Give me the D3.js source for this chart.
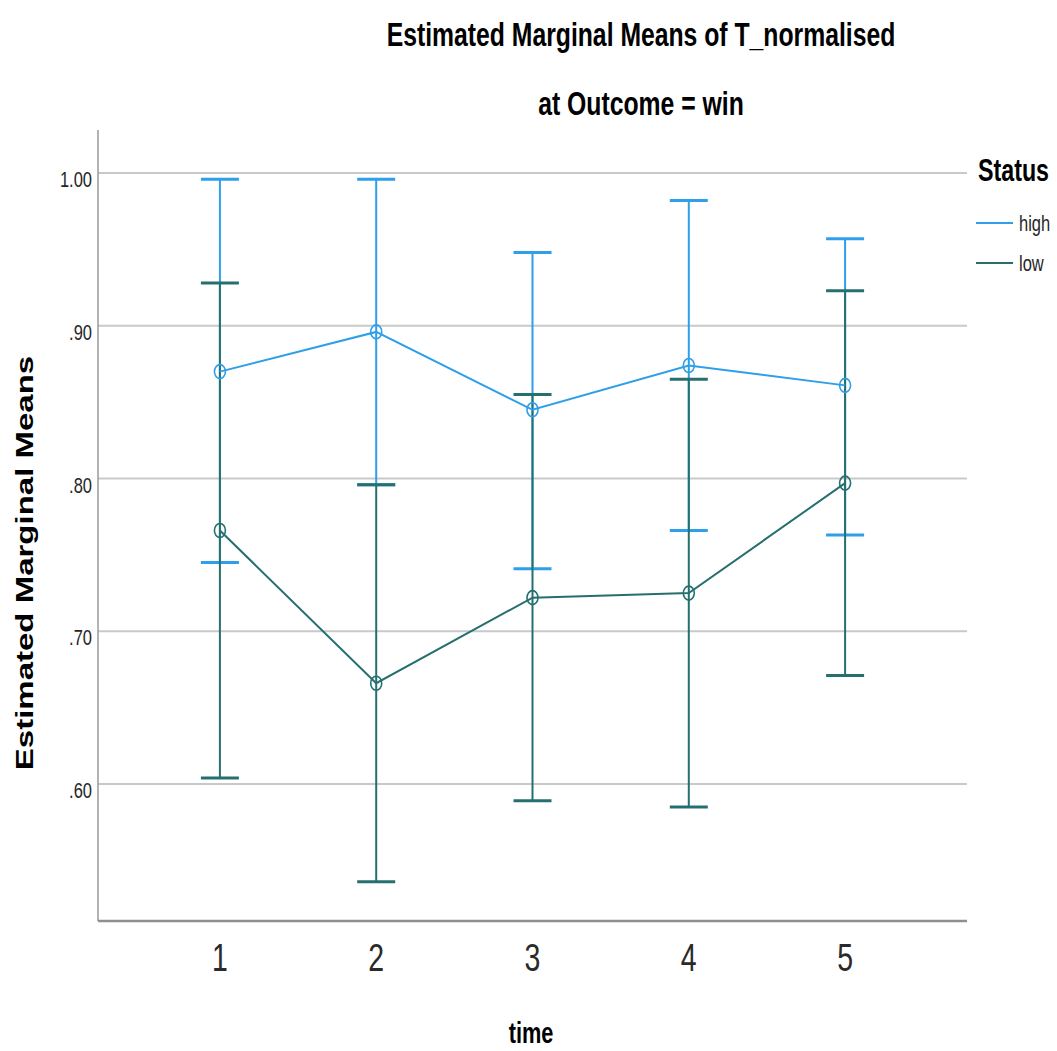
<!DOCTYPE html>
<html>
<head>
<meta charset="utf-8">
<script src="https://cdn.jsdelivr.net/npm/d3@7"></script>
<style>
  html, body { margin: 0; padding: 0; background: #ffffff; }
  svg { display: block; font-family: "Liberation Sans", Arial, sans-serif; }
</style>
</head>
<body>
<svg id="chart" width="1057" height="1051"></svg>
<script>
// Estimated marginal means of T_normalised by time, split by Status (Outcome = win)
const categories = [1, 2, 3, 4, 5];
const statusLevels = ["high", "low"];

const highMean  = [0.870, 0.896, 0.845, 0.874, 0.861];
const highLower = [0.745, 0.796, 0.741, 0.766, 0.763];
const highUpper = [0.996, 0.996, 0.948, 0.982, 0.957];

const lowMean  = [0.766, 0.666, 0.722, 0.725, 0.797];
const lowLower = [0.604, 0.536, 0.589, 0.585, 0.671];
const lowUpper = [0.928, 0.796, 0.855, 0.865, 0.923];

const yTicks = [0.6, 0.7, 0.8, 0.9, 1.0];
const yTickLabels = [".60", ".70", ".80", ".90", "1.00"];

const series = [
  { name: "high", mean: highMean, lower: highLower, upper: highUpper, color: "#2e9fe8" },
  { name: "low",  mean: lowMean,  lower: lowLower,  upper: lowUpper,  color: "#25706f" }
];

// Plot frame
const plotLeft = 98, plotRight = 967, plotTop = 130, plotBottom = 921;
const squeeze = 0.75; // horizontal squeeze applied to text glyphs

const svg = d3.select("#chart");

const x = d3.scalePoint().domain(categories).range([plotLeft, plotRight]).padding(0.78);
const y = d3.scaleLinear().domain([0.5103, 1.0282]).range([plotBottom, plotTop]);

// helper: text with horizontally condensed glyphs
function label(g, px, py, txt, opts) {
  return g.append("g")
    .attr("transform", `translate(${px},${py}) scale(${squeeze},1)` + (opts.rotate ? ` rotate(${opts.rotate})` : ""))
    .append("text")
    .attr("x", 0).attr("y", 0)
    .attr("font-size", opts.size)
    .attr("font-weight", opts.bold ? "bold" : "normal")
    .attr("text-anchor", opts.anchor || "start")
    .attr("fill", opts.fill || "#000")
    .text(txt);
}

// Gridlines
svg.append("g")
  .selectAll("line")
  .data(yTicks)
  .join("line")
  .attr("x1", plotLeft).attr("x2", plotRight)
  .attr("y1", d => y(d)).attr("y2", d => y(d))
  .attr("stroke", "#c9c9c9")
  .attr("stroke-width", 2);

// Y axis (line + labels)
const yAxis = d3.axisLeft(y).tickValues(yTicks).tickSize(0).tickFormat("");
const yAxisG = svg.append("g").attr("transform", `translate(${plotLeft},0)`).call(yAxis);
yAxisG.select(".domain").attr("stroke", "#9a9a9a").attr("stroke-width", 1.5)
  .attr("d", `M0,${plotTop}V${plotBottom}`);

const yLab = svg.append("g");
yTicks.forEach((v, i) => {
  label(yLab, 92, y(v) + 14, yTickLabels[i], { size: 22, anchor: "end", fill: "#262626" });
});

// X axis
const xAxis = d3.axisBottom(x).tickSize(0).tickFormat("");
const xAxisG = svg.append("g").attr("transform", `translate(0,${plotBottom})`).call(xAxis);
xAxisG.select(".domain").attr("stroke", "#8f8f8f").attr("stroke-width", 2.5)
  .attr("d", `M${plotLeft},0H${plotRight}`);

const xLab = svg.append("g");
categories.forEach(c => {
  label(xLab, x(c), 971, String(c), { size: 38, anchor: "middle", fill: "#2a2a2a" });
});

// Error bars
const capHalf = 19;
series.forEach(s => {
  const g = svg.append("g").attr("class", "err-" + s.name);
  categories.forEach((c, i) => {
    const cx = x(c);
    g.append("line")
      .attr("x1", cx).attr("x2", cx)
      .attr("y1", y(s.lower[i])).attr("y2", y(s.upper[i]))
      .attr("stroke", s.color).attr("stroke-width", 2);
    [s.lower[i], s.upper[i]].forEach(v => {
      g.append("line")
        .attr("x1", cx - capHalf).attr("x2", cx + capHalf)
        .attr("y1", y(v)).attr("y2", y(v))
        .attr("stroke", s.color).attr("stroke-width", 3);
    });
  });
});

// Mean lines and markers
const line = d3.line().x((d, i) => x(categories[i])).y(d => y(d));
series.forEach(s => {
  const g = svg.append("g").attr("class", "means-" + s.name);
  g.append("path")
    .datum(s.mean)
    .attr("d", line)
    .attr("fill", "none")
    .attr("stroke", s.color)
    .attr("stroke-width", 2);
  g.selectAll("ellipse")
    .data(s.mean)
    .join("ellipse")
    .attr("cx", (d, i) => x(categories[i]))
    .attr("cy", d => y(d))
    .attr("rx", 5.5)
    .attr("ry", 7)
    .attr("fill", "none")
    .attr("stroke", s.color)
    .attr("stroke-width", 1.6);
});

// Titles
const titles = svg.append("g");
label(titles, 641, 46, "Estimated Marginal Means of T_normalised", { size: 33, bold: true, anchor: "middle" });
label(titles, 641, 115, "at Outcome = win", { size: 33, bold: true, anchor: "middle" });

// Axis titles
label(titles, 33, 563, "Estimated Marginal Means", { size: 33, bold: true, anchor: "middle", rotate: -90 });
label(titles, 531, 1043, "time", { size: 29, bold: true, anchor: "middle" });

// Legend
const legend = svg.append("g");
label(legend, 978, 181, "Status", { size: 31, bold: true });
series.forEach((s, i) => {
  const ly = 223 + i * 40;
  legend.append("line")
    .attr("x1", 976).attr("x2", 1013)
    .attr("y1", ly).attr("y2", ly)
    .attr("stroke", s.color).attr("stroke-width", 2);
  label(legend, 1019, ly + 8, statusLevels[i], { size: 22, fill: "#262626" });
});
</script>
</body>
</html>
